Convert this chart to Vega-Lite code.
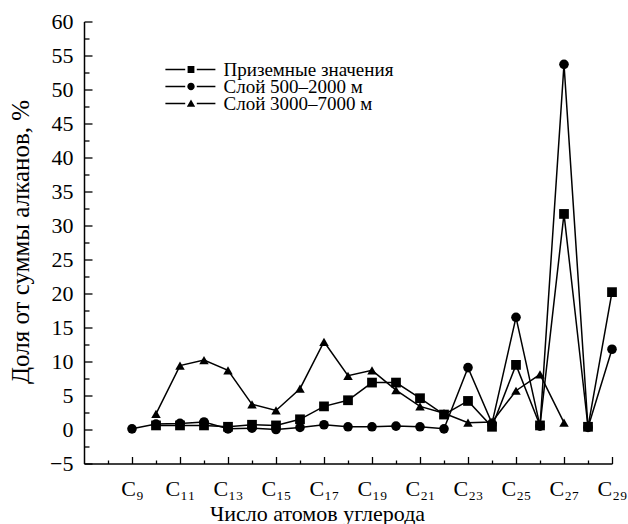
{
  "$schema": "https://vega.github.io/schema/vega-lite/v6.json",
  "width": 528,
  "height": 442,
  "autosize": "none",
  "padding": {"left": 84, "top": 21.5, "right": 16, "bottom": 60.5},
  "background": "white",
  "config": {
    "view": {"stroke": null},
    "font": "Liberation Serif",
    "axis": {
      "grid": false,
      "domainColor": "black",
      "domainWidth": 1.5,
      "tickColor": "black",
      "tickWidth": 1.3,
      "labelColor": "black",
      "labelFont": "Liberation Serif",
      "labelFontSize": 22,
      "titleColor": "black",
      "titleFont": "Liberation Serif",
      "titleFontSize": 22,
      "titleFontWeight": "normal"
    },
    "legend": {
      "orient": "none",
      "legendX": 97.5,
      "title": null,
      "padding": 0,
      "labelFont": "Liberation Serif",
      "labelFontSize": 19,
      "labelColor": "black",
      "labelLimit": 0,
      "labelOffset": 23,
      "symbolSize": 64,
      "symbolFillColor": "black",
      "symbolStrokeColor": "black",
      "symbolStrokeWidth": 0,
      "symbolOpacity": 1
    }
  },
  "data": {
    "values": [
      {"c": 10, "s": "Приземные значения", "v": 0.6},
      {"c": 11, "s": "Приземные значения", "v": 0.6},
      {"c": 12, "s": "Приземные значения", "v": 0.6},
      {"c": 13, "s": "Приземные значения", "v": 0.4},
      {"c": 14, "s": "Приземные значения", "v": 0.7},
      {"c": 15, "s": "Приземные значения", "v": 0.6},
      {"c": 16, "s": "Приземные значения", "v": 1.5},
      {"c": 17, "s": "Приземные значения", "v": 3.4},
      {"c": 18, "s": "Приземные значения", "v": 4.3},
      {"c": 19, "s": "Приземные значения", "v": 6.9},
      {"c": 20, "s": "Приземные значения", "v": 6.9},
      {"c": 21, "s": "Приземные значения", "v": 4.6},
      {"c": 22, "s": "Приземные значения", "v": 2.2},
      {"c": 23, "s": "Приземные значения", "v": 4.2},
      {"c": 24, "s": "Приземные значения", "v": 0.4},
      {"c": 25, "s": "Приземные значения", "v": 9.5},
      {"c": 26, "s": "Приземные значения", "v": 0.6},
      {"c": 27, "s": "Приземные значения", "v": 31.7},
      {"c": 28, "s": "Приземные значения", "v": 0.4},
      {"c": 29, "s": "Приземные значения", "v": 20.2},
      {"c": 9, "s": "Слой 500–2000 м", "v": 0.1},
      {"c": 10, "s": "Слой 500–2000 м", "v": 0.8},
      {"c": 11, "s": "Слой 500–2000 м", "v": 0.9},
      {"c": 12, "s": "Слой 500–2000 м", "v": 1.1},
      {"c": 13, "s": "Слой 500–2000 м", "v": 0.1},
      {"c": 14, "s": "Слой 500–2000 м", "v": 0.2},
      {"c": 15, "s": "Слой 500–2000 м", "v": 0.0},
      {"c": 16, "s": "Слой 500–2000 м", "v": 0.3},
      {"c": 17, "s": "Слой 500–2000 м", "v": 0.7},
      {"c": 18, "s": "Слой 500–2000 м", "v": 0.4},
      {"c": 19, "s": "Слой 500–2000 м", "v": 0.4},
      {"c": 20, "s": "Слой 500–2000 м", "v": 0.5},
      {"c": 21, "s": "Слой 500–2000 м", "v": 0.4},
      {"c": 22, "s": "Слой 500–2000 м", "v": 0.1},
      {"c": 23, "s": "Слой 500–2000 м", "v": 9.1},
      {"c": 24, "s": "Слой 500–2000 м", "v": 0.9},
      {"c": 25, "s": "Слой 500–2000 м", "v": 16.5},
      {"c": 26, "s": "Слой 500–2000 м", "v": 0.5},
      {"c": 27, "s": "Слой 500–2000 м", "v": 53.7},
      {"c": 28, "s": "Слой 500–2000 м", "v": 0.3},
      {"c": 29, "s": "Слой 500–2000 м", "v": 11.8},
      {"c": 10, "s": "Слой 3000–7000 м", "v": 2.3},
      {"c": 11, "s": "Слой 3000–7000 м", "v": 9.4},
      {"c": 12, "s": "Слой 3000–7000 м", "v": 10.2},
      {"c": 13, "s": "Слой 3000–7000 м", "v": 8.7},
      {"c": 14, "s": "Слой 3000–7000 м", "v": 3.7},
      {"c": 15, "s": "Слой 3000–7000 м", "v": 2.8},
      {"c": 16, "s": "Слой 3000–7000 м", "v": 6.0},
      {"c": 17, "s": "Слой 3000–7000 м", "v": 12.9},
      {"c": 18, "s": "Слой 3000–7000 м", "v": 7.9},
      {"c": 19, "s": "Слой 3000–7000 м", "v": 8.7},
      {"c": 20, "s": "Слой 3000–7000 м", "v": 5.8},
      {"c": 21, "s": "Слой 3000–7000 м", "v": 3.4},
      {"c": 22, "s": "Слой 3000–7000 м", "v": 2.4},
      {"c": 23, "s": "Слой 3000–7000 м", "v": 1.0},
      {"c": 24, "s": "Слой 3000–7000 м", "v": 1.1},
      {"c": 25, "s": "Слой 3000–7000 м", "v": 5.7},
      {"c": 26, "s": "Слой 3000–7000 м", "v": 8.1},
      {"c": 27, "s": "Слой 3000–7000 м", "v": 1.0}
    ]
  },
  "encoding": {
    "x": {
      "field": "c",
      "type": "quantitative",
      "scale": {"domain": [7, 29], "nice": false, "zero": false},
      "axis": {
        "values": [8, 9, 10, 11, 12, 13, 14, 15, 16, 17, 18, 19, 20, 21, 22, 23, 24, 25, 26, 27, 28, 29],
        "labelExpr": "datum.value % 2 == 1 ? 'C' + (datum.value >= 10 ? ['₀','₁','₂','₃','₄','₅','₆','₇','₈','₉'][floor(datum.value / 10)] : '') + ['₀','₁','₂','₃','₄','₅','₆','₇','₈','₉'][datum.value % 10] : ''",
        "tickSize": {"condition": {"test": "datum.value % 2 == 1", "value": -7}, "value": -3.5},
        "labelPadding": 22,
        "labelFlush": false,
        "labelOverlap": false,
        "title": "Число атомов углерода",
        "titleX": 233,
        "titleY": 57,
        "titleBaseline": "alphabetic",
        "titleAnchor": "middle"
      }
    },
    "y": {
      "field": "v",
      "type": "quantitative",
      "scale": {"domain": [-5, 60], "nice": false, "zero": false},
      "axis": {
        "values": [-5, -2.5, 0, 2.5, 5, 7.5, 10, 12.5, 15, 17.5, 20, 22.5, 25, 27.5, 30, 32.5, 35, 37.5, 40, 42.5, 45, 47.5, 50, 52.5, 55, 57.5, 60],
        "labelExpr": "datum.value % 5 == 0 ? datum.label : ''",
        "tickSize": {"condition": {"test": "datum.value % 5 == 0", "value": -8}, "value": -5},
        "labelPadding": 19,
        "labelFlush": false,
        "labelOverlap": false,
        "title": "Доля от суммы алканов, %",
        "titleFontSize": 25,
        "titleX": -64,
        "titleY": 220,
        "titleBaseline": "middle",
        "titleAnchor": "middle"
      }
    }
  },
  "layer": [
    {
      "mark": {"type": "line", "color": "black", "strokeWidth": 1.5},
      "encoding": {"detail": {"field": "s", "type": "nominal"}}
    },
    {
      "mark": {"type": "point", "filled": true, "color": "black", "opacity": 1},
      "encoding": {
        "shape": {
          "field": "s",
          "type": "nominal",
          "scale": {
            "domain": ["Приземные значения", "Слой 500–2000 м", "Слой 3000–7000 м"],
            "range": ["square", "circle", "triangle-up"]
          },
          "legend": null
        },
        "size": {
          "field": "s",
          "type": "nominal",
          "scale": {
            "domain": ["Приземные значения", "Слой 500–2000 м", "Слой 3000–7000 м"],
            "range": [95, 90, 130]
          },
          "legend": null
        }
      }
    },
    {
      "transform": [{"filter": "datum.c > 100"}],
      "mark": {"type": "point", "filled": true, "color": "black", "opacity": 1, "size": 64},
      "encoding": {
        "shape": {
          "field": "s",
          "type": "nominal",
          "scale": {
            "domain": ["Приземные значения"],
            "range": ["M-6.4,-0.17H-1.45V0.17H-6.4Z M-0.85,-0.85H0.85V0.85H-0.85Z M1.45,-0.17H6.1V0.17H1.45Z"]
          },
          "legend": {"legendY": 38.5}
        }
      }
    },
    {
      "transform": [{"filter": "datum.c > 100"}],
      "mark": {"type": "point", "filled": true, "color": "black", "opacity": 1, "size": 64},
      "encoding": {
        "shape": {
          "field": "s",
          "type": "nominal",
          "scale": {
            "domain": ["Слой 500–2000 м"],
            "range": ["M-6.4,-0.17H-1.45V0.17H-6.4Z M-0.92,0A0.92,0.92,0,1,0,0.92,0A0.92,0.92,0,1,0,-0.92,0Z M1.45,-0.17H6.1V0.17H1.45Z"]
          },
          "legend": {"legendY": 55.5}
        }
      }
    },
    {
      "transform": [{"filter": "datum.c > 100"}],
      "mark": {"type": "point", "filled": true, "color": "black", "opacity": 1, "size": 64},
      "encoding": {
        "shape": {
          "field": "s",
          "type": "nominal",
          "scale": {
            "domain": ["Слой 3000–7000 м"],
            "range": ["M-6.4,-0.17H-1.45V0.17H-6.4Z M-1.05,0.8L0,-1.0L1.05,0.8Z M1.45,-0.17H6.1V0.17H1.45Z"]
          },
          "legend": {"legendY": 72.5}
        }
      }
    }
  ],
  "resolve": {"scale": {"shape": "independent", "size": "independent"}, "legend": {"shape": "independent"}}
}
